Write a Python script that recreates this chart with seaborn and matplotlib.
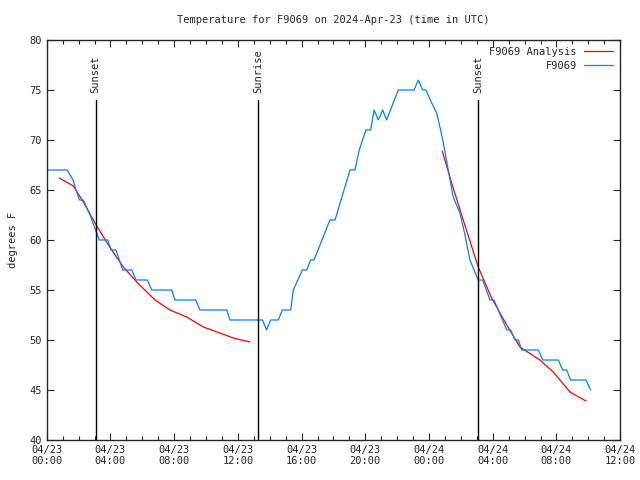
import numpy as np
import pandas as pd
import matplotlib
matplotlib.use("Agg")
import matplotlib.pyplot as plt
import matplotlib.dates as mdates
import seaborn as sns

start = pd.Timestamp("2024-04-23 00:00")

# observed temps (hours after start, deg F)
obs_hours = [0.00, 1.29, 1.65, 1.84, 2.05, 2.30, 2.72, 3.30, 3.83, 4.04, 4.35, 4.77,
             5.34, 5.61, 6.32, 6.59, 7.85, 8.05, 9.35, 9.62, 11.30, 11.51, 13.55,
             13.80, 14.06, 14.54, 14.79, 15.32, 15.48, 16.05, 16.32, 16.57, 16.78,
             17.78, 18.10, 19.04, 19.35, 19.62, 20.04, 20.34, 20.55, 20.82, 21.09,
             21.34, 22.07, 23.06, 23.33, 23.60, 23.81, 24.17, 24.48, 24.73, 24.90,
             25.21, 25.52, 25.94, 26.26, 26.57, 27.09, 27.37, 27.83, 28.08, 28.88,
             29.13, 29.40, 29.61, 29.82, 30.86, 31.14, 32.12, 32.39, 32.64, 32.89,
             33.85, 34.15]
obs_temps = [67, 67, 66, 65, 64, 64, 62.5, 60, 60, 59, 59, 57,
             57, 56, 56, 55, 55, 54, 54, 53, 53, 52, 52,
             51, 52, 52, 53, 53, 55, 57, 57, 58, 58,
             62, 62, 67, 67, 69, 71, 71, 73, 72, 73,
             72, 75, 75, 76, 75, 75, 73.7, 72.7, 71, 69.7,
             67, 64.3, 62.7, 60.5, 58, 56, 56, 54, 54, 51,
             51, 50, 50, 49, 49, 48, 48, 47, 47, 46,
             46, 45]

# analysis curve, two pieces
ana1_hours = [0.79, 1.67, 2.30, 3.03, 3.87, 4.81, 5.65, 6.80, 7.74, 8.79, 9.83, 10.88, 11.71, 12.76]
ana1_temps = [66.2, 65.4, 63.8, 61.7, 59.5, 57.3, 55.8, 54.0, 53.0, 52.3, 51.3, 50.7, 50.2, 49.8]
ana2_hours = [24.83, 25.42, 26.15, 27.09, 27.93, 28.88, 29.71, 30.96, 31.80, 32.85, 33.85]
ana2_temps = [68.9, 65.7, 62.0, 57.3, 54.2, 51.5, 49.3, 48.0, 46.8, 44.8, 43.9]

event_names = ["Sunset", "Sunrise", "Sunset"]
event_hours = [3.07, 13.29, 27.08]

obs = pd.DataFrame({"time": start + pd.to_timedelta(obs_hours, unit="h"), "temp": obs_temps})
ana = pd.DataFrame({
    "time": start + pd.to_timedelta(ana1_hours + ana2_hours, unit="h"),
    "temp": ana1_temps + ana2_temps,
    "seg": [1] * len(ana1_hours) + [2] * len(ana2_hours),
})

sns.set_style("ticks")
plt.rcParams["font.family"] = ["DejaVu Sans Mono"]
plt.rcParams["font.size"] = 7.5

fig = plt.figure(figsize=(6.4, 4.8), dpi=100)
ax = fig.add_axes([0.073, 0.0833, 0.896, 0.8334])

sns.lineplot(data=ana, x="time", y="temp", units="seg", estimator=None, color="#ff0000",
             lw=0.9, label="F9069 Analysis", ax=ax)
sns.lineplot(data=obs, x="time", y="temp", color="#0080ff", lw=0.9, label="F9069", ax=ax)

for name, h in zip(event_names, event_hours):
    t = start + pd.Timedelta(hours=h)
    ax.plot([t, t], [40, 74], color="black", lw=1)
    ax.text(t, 74.7, name, rotation=90, ha="center", va="bottom", fontsize=7.5)

ax.set_xlim(start, start + pd.Timedelta(hours=36))
ax.set_ylim(40, 80)
ax.set_yticks(range(40, 81, 5))
ax.xaxis.set_major_locator(mdates.HourLocator(byhour=[0, 4, 8, 12, 16, 20]))
ax.xaxis.set_minor_locator(mdates.HourLocator())
ax.xaxis.set_major_formatter(mdates.DateFormatter("%m/%d\n%H:%M"))
ax.tick_params(which="both", direction="in", top=True, right=True, labelsize=7.5)
ax.tick_params(which="major", length=5, width=0.8)
ax.tick_params(which="minor", length=3, width=0.8)
for s in ax.spines.values():
    s.set_linewidth(1)
    s.set_visible(True)

ax.set_xlabel("")
ax.set_ylabel("degrees F", fontsize=7.5, labelpad=8)
fig.text(0.52, 0.958, "Temperature for F9069 on 2024-Apr-23 (time in UTC)", ha="center", va="center", fontsize=7.5)

handles, labels = ax.get_legend_handles_labels()
uniq = dict(zip(labels, handles))
ax.legend(list(uniq.values()), list(uniq.keys()), loc="upper right", frameon=False,
          markerfirst=False, handlelength=2.8, fontsize=7.5, borderaxespad=0.25,
          labelspacing=0.4, handletextpad=0.7)

fig.savefig("out.png", dpi=100)
